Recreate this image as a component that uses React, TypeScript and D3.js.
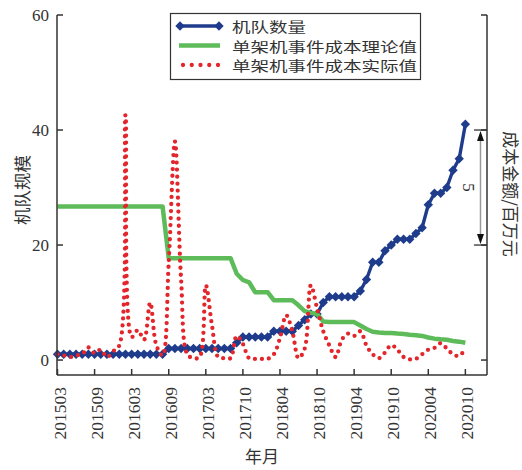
import React from 'react';
import * as d3 from 'd3';

// Month labels shown on the category axis (one every six data points)
const tickLabels = ['201503', '201509', '201603', '201609', '201703', '201710', '201804', '201810', '201904', '201910', '202004', '202010'];

// 机队数量 (aircraft count), one value per data month
const fleetSize = [
  1, 1, 1, 1, 1, 1, 1, 1, 1, 1,
  1, 1, 1, 1, 1, 1, 1, 1, 2, 2,
  2, 2, 2, 2, 2, 2, 2, 2, 2, 3,
  4, 4, 4, 4, 4, 5, 5, 5, 5, 6,
  7, 8, 8, 10, 11, 11, 11, 11, 11, 12,
  14, 17, 17, 19, 20, 21, 21, 21, 22, 23,
  27, 29, 29, 30, 33, 35, 41,
];

// 单架机事件成本理论值 (百万元)
const costTheory = [
  6.68, 6.68, 6.68, 6.68, 6.68, 6.68, 6.68, 6.68, 6.68, 6.68,
  6.68, 6.68, 6.68, 6.68, 6.68, 6.68, 6.68, 6.68, 4.43, 4.43,
  4.43, 4.43, 4.43, 4.43, 4.43, 4.43, 4.43, 4.43, 4.43, 3.75,
  3.48, 3.38, 2.95, 2.95, 2.95, 2.6, 2.6, 2.6, 2.6, 2.38,
  2.13, 2.05, 2.0, 1.68, 1.65, 1.65, 1.65, 1.65, 1.65, 1.5,
  1.35, 1.23, 1.2, 1.18, 1.18, 1.15, 1.13, 1.1, 1.08, 1.05,
  0.98, 0.93, 0.9, 0.88, 0.83, 0.8, 0.75,
];

// 单架机事件成本实际值 (百万元)
const costActual = [
  0.25, 0.2, 0.13, 0.2, 0.25, 0.55, 0.3, 0.45, 0.13, 0.38,
  0.63, 10.65, 1.0, 1.3, 0.88, 2.5, 0.63, 0.2, 4.25, 9.5,
  3.5, 0.25, 0.08, 0.13, 3.25, 1.5, 0.13, 0.08, 0.08, 1.05,
  0.7, 0.08, 0.05, 0.05, 0.05, 0.25, 0.95, 1.95, 1.25, 0.08,
  0.5, 3.25, 2.25, 1.25, 0.63, 0.13, 0.88, 1.15, 1.05, 1.25,
  0.63, 0.25, 0.08, 0.33, 0.65, 0.45, 0.13, 0.03, 0.05, 0.25,
  0.45, 0.53, 0.73, 0.5, 0.25, 0.18, 0.5,
];

const leftTicks = [0, 20, 40, 60];
const rightTicks = [0, 5, 10, 15];
const spanLabel = '5';

const seriesNames = ['机队数量', '单架机事件成本理论值', '单架机事件成本实际值'];

const BLUE = '#1f3c8c';
const GREEN = '#5dbb5a';
const RED = '#e2262b';
const AXIS = '#333';
const SERIF = "'Liberation Serif', 'Times New Roman', serif";
const CJK = "'Noto Sans CJK SC', sans-serif";

const W = 522;
const H = 470;
const L = 57;
const R = 487;
const T = 15;
const B = 375;

// legend row centres
const ROW0 = 26;
const ROW_GAP = 19.5;

export default function App() {
  const x = d3.scaleLinear().domain([0, 69.5]).range([57.5, R]);
  const yL = d3.scaleLinear().domain([-2.6, 60]).range([B, T]);
  const yR = d3.scaleLinear().domain([-0.65, 15]).range([B, T]);

  const fleetLine = d3.line<number>().x((_, i) => x(i)).y((d) => yL(d));
  const theoryLine = d3.line<number>().x((_, i) => x(i)).y((d) => yR(d));
  const actualLine = d3
    .line<number>()
    .x((_, i) => x(i))
    .y((d) => yR(d))
    .curve(d3.curveCatmullRom.alpha(0.5));

  const diamond = d3.symbol().type(d3.symbolSquare).size(44)();

  const arrowX = 480.5;
  const spanTop = yR(10);
  const spanBottom = yR(5);

  const rowY = (i: number) => ROW0 + i * ROW_GAP;

  return (
    <svg
      width={W}
      height={H}
      viewBox={`0 0 ${W} ${H}`}
      style={{ position: 'absolute', left: 0, top: 0, background: '#fff' }}
    >
      <rect x={0} y={0} width={W} height={H} fill="#fff" />

      {/* series: fleet size (left axis) */}
      <path d={fleetLine(fleetSize) ?? ''} fill="none" stroke={BLUE} strokeWidth={3.4} strokeLinejoin="round" />
      {fleetSize.map((d, i) => (
        <path key={i} d={diamond ?? ''} transform={`translate(${x(i)},${yL(d)}) rotate(45)`} fill={BLUE} />
      ))}

      {/* series: cost theory and actual (right axis) */}
      <path d={theoryLine(costTheory) ?? ''} fill="none" stroke={GREEN} strokeWidth={4.5} strokeLinejoin="round" />
      <path
        d={actualLine(costActual) ?? ''}
        fill="none"
        stroke={RED}
        strokeWidth={4.3}
        strokeLinecap="round"
        strokeDasharray="0 7"
      />

      {/* axes frame */}
      <g stroke={AXIS} strokeWidth={1.5} fill="none">
        <line x1={L} y1={T} x2={L} y2={B} />
        <line x1={R} y1={T} x2={R} y2={B} />
        <line x1={L} y1={B} x2={R} y2={B} />
        {leftTicks.map((t) => (
          <line key={`l${t}`} x1={L} x2={L + 6} y1={yL(t)} y2={yL(t)} />
        ))}
        {rightTicks.map((t) => (
          <line key={`r${t}`} x1={R} x2={R - 6} y1={yR(t)} y2={yR(t)} />
        ))}
        {tickLabels.map((_, i) => (
          <line key={`b${i}`} x1={x(i * 6)} x2={x(i * 6)} y1={B} y2={B - 6} />
        ))}
      </g>

      {/* left tick labels */}
      {leftTicks.map((t) => (
        <text
          key={`lt${t}`}
          x={L - 8}
          y={yL(t)}
          textAnchor="end"
          dominantBaseline="central"
          fontFamily={SERIF}
          fontSize={17}
          fill={AXIS}
        >
          {t}
        </text>
      ))}

      {/* month tick labels */}
      {tickLabels.map((lab, i) => (
        <text
          key={lab}
          transform={`translate(${x(i * 6) + 2},${387}) rotate(-90)`}
          textAnchor="end"
          dominantBaseline="central"
          fontFamily={SERIF}
          fontSize={17.5}
          fill={AXIS}
        >
          {lab}
        </text>
      ))}

      {/* axis titles */}
      <text x={262} y={455} textAnchor="middle" dominantBaseline="central" fontFamily={CJK} fontSize={17} fill={AXIS}>
        年月
      </text>
      <text
        transform="translate(21,190) rotate(-90)"
        textAnchor="middle"
        dominantBaseline="central"
        fontFamily={CJK}
        fontSize={17.5}
        fill={AXIS}
      >
        机队规模
      </text>
      <text
        transform="translate(511,194) rotate(90)"
        textAnchor="middle"
        dominantBaseline="central"
        fontFamily={CJK}
        fontSize={17}
        fill={AXIS}
      >
        成本金额/百万元
      </text>

      {/* span marker on the right axis */}
      <line x1={arrowX} x2={arrowX} y1={spanTop + 9} y2={spanBottom - 9} stroke="#999" strokeWidth={1.5} />
      <line x1={474} x2={R} y1={spanTop} y2={spanTop} stroke={AXIS} strokeWidth={1.3} />
      <line x1={474} x2={R} y1={spanBottom} y2={spanBottom} stroke={AXIS} strokeWidth={1.3} />
      <path
        d={`M${arrowX},${spanTop + 1} L${arrowX - 3.5},${spanTop + 11} L${arrowX + 3.5},${spanTop + 11} Z`}
        fill="#111"
      />
      <path
        d={`M${arrowX},${spanBottom - 1} L${arrowX - 3.5},${spanBottom - 11} L${arrowX + 3.5},${spanBottom - 11} Z`}
        fill="#111"
      />
      <text
        transform={`translate(468,${(spanTop + spanBottom) / 2}) rotate(90)`}
        textAnchor="middle"
        dominantBaseline="central"
        fontFamily={SERIF}
        fontSize={17}
        fill={AXIS}
      >
        {spanLabel}
      </text>

      {/* legend */}
      <rect x={170.5} y={13.5} width={250} height={66} fill="#fff" stroke={AXIS} strokeWidth={1.2} />
      <line x1={180} x2={219} y1={rowY(0)} y2={rowY(0)} stroke={BLUE} strokeWidth={3.4} />
      <path d={diamond ?? ''} transform={`translate(180,${rowY(0)}) rotate(45)`} fill={BLUE} />
      <path d={diamond ?? ''} transform={`translate(219,${rowY(0)}) rotate(45)`} fill={BLUE} />
      <line x1={179} x2={220} y1={rowY(1)} y2={rowY(1)} stroke={GREEN} strokeWidth={4.5} />
      <line
        x1={183}
        x2={219}
        y1={rowY(2)}
        y2={rowY(2)}
        stroke={RED}
        strokeWidth={4.3}
        strokeLinecap="round"
        strokeDasharray="0 8.75"
      />
      {seriesNames.map((name, i) => (
        <text
          key={name}
          x={232}
          y={rowY(i)}
          dominantBaseline="central"
          fontFamily={CJK}
          fontSize={13.4}
          textLength={i === 0 ? 74 : 185}
          lengthAdjust="spacingAndGlyphs"
          fill={AXIS}
        >
          {name}
        </text>
      ))}
    </svg>
  );
}
